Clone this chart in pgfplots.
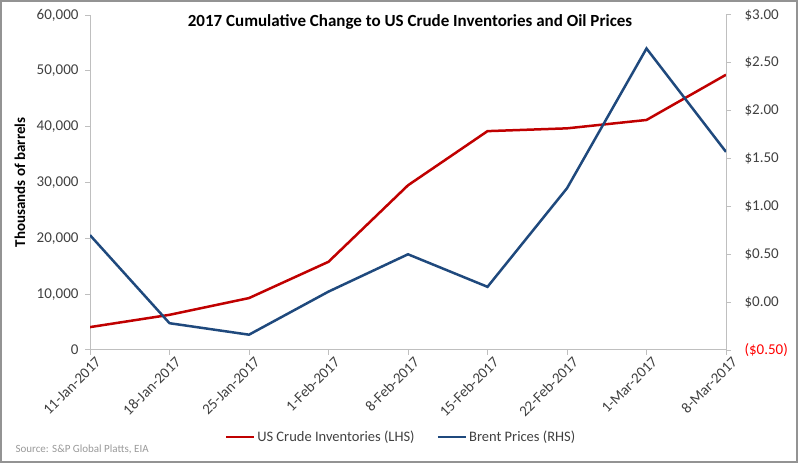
\documentclass[border=0pt]{standalone}
\usepackage{fontspec}
\setmainfont{Carlito}
\usepackage{pgfplots}
\pgfplotsset{compat=1.18}
\definecolor{invred}{RGB}{192,0,0}
\definecolor{brentblue}{RGB}{31,73,125}
\definecolor{axgray}{RGB}{191,191,191}
\definecolor{txtgray}{RGB}{64,64,64}
\begin{document}
\begin{tikzpicture}[x=1pt,y=1pt]
\useasboundingbox (0,0) rectangle (798,463);
\draw[line width=2pt,color=gray!85] (1,1) rectangle (797,462);

\pgfplotsset{
  every axis/.append style={
    scale only axis, width=636pt, height=335pt,
    at={(90pt,113pt)}, anchor=south west,
    xmin=0, xmax=8,
    axis line style={axgray, line width=1pt},
    tick style={axgray, line width=1pt},
    major tick length=5pt,
    tick label style={font=\fontsize{15}{17}\selectfont, text=txtgray},
    /pgf/number format/assume math mode=true,
  },
}

\begin{axis}[
  axis x line*=bottom, axis y line*=left,
  ymin=0, ymax=60000,
  ytick={0,10000,20000,30000,40000,50000,60000},
  scaled y ticks=false,
  yticklabel style={/pgf/number format/fixed, /pgf/number format/1000 sep={,}, xshift=-3pt},
  xtick={0,...,8},
  xtick pos=bottom, xtick align=outside, ytick align=outside,
  xticklabels={11-Jan-2017,18-Jan-2017,25-Jan-2017,1-Feb-2017,8-Feb-2017,15-Feb-2017,22-Feb-2017,1-Mar-2017,8-Mar-2017},
  xticklabel style={rotate=45, anchor=north east, inner sep=2pt, xshift=5pt, yshift=-2pt},
  ylabel={\fontsize{15}{17}\selectfont\bfseries Thousands of barrels},
  ylabel style={at={(-70pt,0.5)}, anchor=center},
]
\addplot[invred, line width=2.5pt, mark=none] coordinates {
  (0,4100) (1,6300) (2,9300) (3,15800) (4,29500) (5,39200) (6,39700) (7,41200) (8,49300)
};
\end{axis}

\begin{axis}[
  axis x line=none, axis y line*=right,
  ymin=-0.5, ymax=3,
  ytick={-0.5,0,0.5,1,1.5,2,2.5,3},
  yticklabels={\textcolor{red}{(\$0.50)},\$0.00,\$0.50,\$1.00,\$1.50,\$2.00,\$2.50,\$3.00},
  yticklabel style={xshift=10pt},
  ytick align=outside,
  legend columns=2,
  legend style={draw=none, fill=none, at={(0.489,-0.26)}, anchor=center,
    font=\fontsize{14.5}{17}\selectfont, text=txtgray,
    /tikz/every even column/.append style={column sep=20pt},
    /tikz/every odd column/.append style={column sep=0pt}},
  legend cell align=left,
  legend image code/.code={\draw[#1, line width=2.5pt] (0pt,0pt) -- (28pt,0pt);},
]
\addlegendimage{invred}
\addlegendentry{US Crude Inventories (LHS)}
\addplot[brentblue, line width=2.5pt, mark=none] coordinates {
  (0,0.70) (1,-0.22) (2,-0.34) (3,0.11) (4,0.50) (5,0.16) (6,1.19) (7,2.65) (8,1.57)
};
\addlegendentry{Brent Prices (RHS)}
\end{axis}

\node[font=\fontsize{17}{20}\selectfont\bfseries, anchor=center] at (410,441) {2017 Cumulative Change to US Crude Inventories and Oil Prices};
\node[font=\fontsize{11}{13}\selectfont, text=gray!80, anchor=west] at (12,14) {Source: S\&P Global Platts, EIA};
\end{tikzpicture}
\end{document}
